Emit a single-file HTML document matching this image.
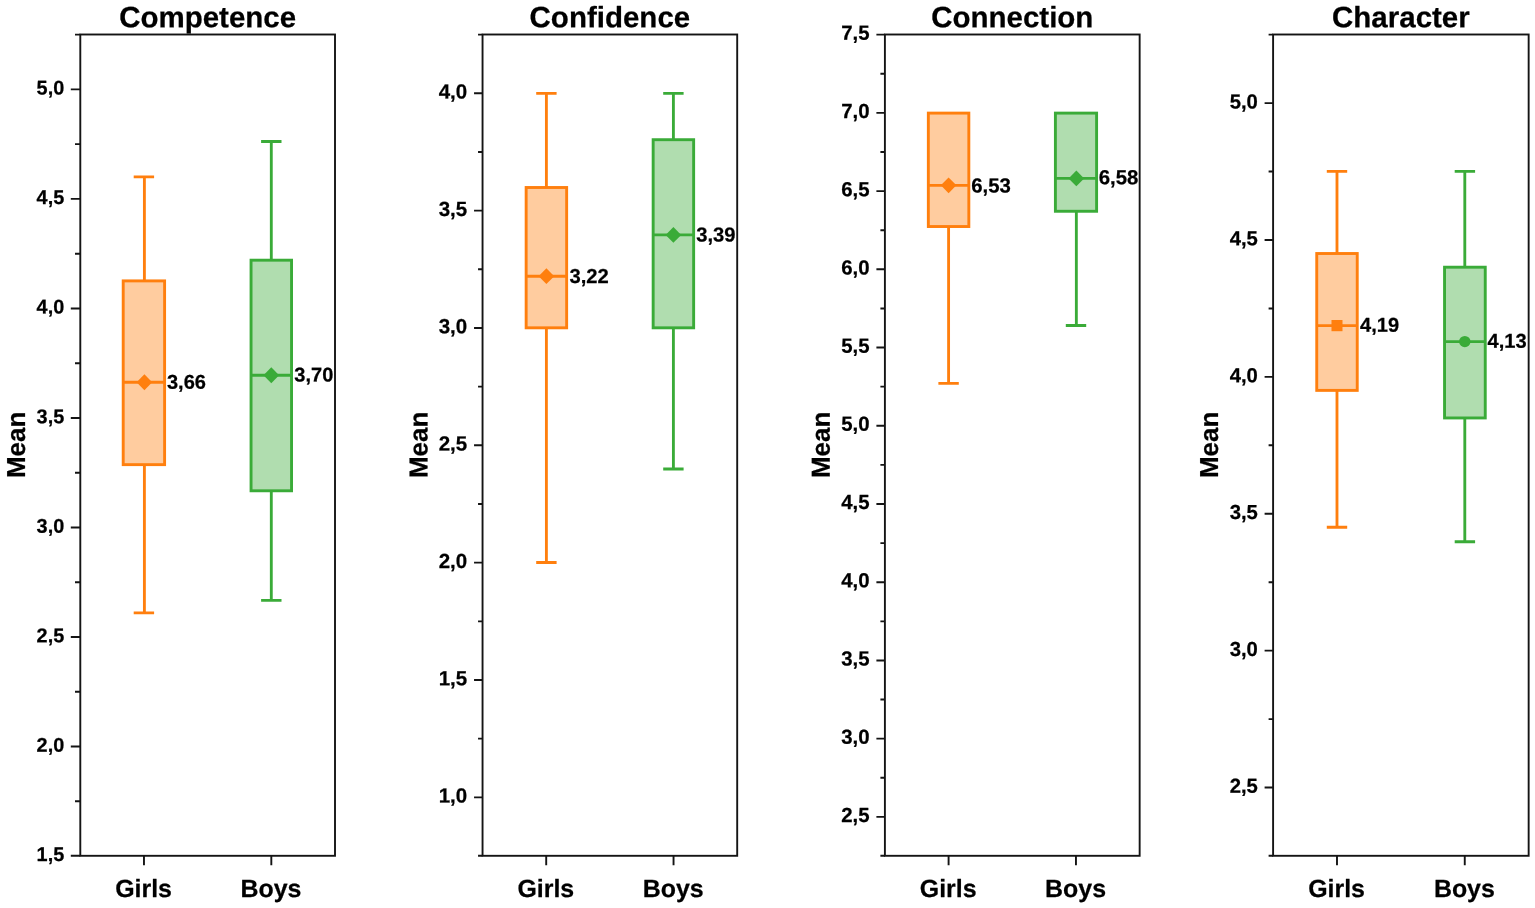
<!DOCTYPE html>
<html lang="en"><head><meta charset="utf-8"><title>Mean scores by gender</title>
<style>
html,body{margin:0;padding:0;background:#fff;}
body{width:1535px;height:908px;overflow:hidden;}
svg{display:block;}
text{font-family:'Liberation Sans', sans-serif;font-weight:bold;fill:#000;text-rendering:geometricPrecision;stroke:#000;stroke-width:0.25;stroke-linejoin:round;}
.ax{stroke:#141414;stroke-width:1.9;fill:none;}
.tl{font-size:20px;text-anchor:end;}
.ml{font-size:19.9px;text-anchor:start;}
.tt{font-size:29.5px;text-anchor:middle;}
.xl{font-size:24.9px;text-anchor:middle;}
.yl{font-size:26px;text-anchor:middle;}
.o{stroke:#ff7f0e;stroke-width:2.85;fill:none;}
.g{stroke:#3aab38;stroke-width:2.85;fill:none;}
.ob{stroke:#ff7f0e;stroke-width:2.9;fill:#ff7f0e;fill-opacity:.4;}
.gb{stroke:#3aab38;stroke-width:2.9;fill:#3aab38;fill-opacity:.4;}
.om{fill:#ff7f0e;stroke:none;}
.gm{fill:#3aab38;stroke:none;}
</style></head><body>
<svg xmlns="http://www.w3.org/2000/svg" width="1535" height="908" viewBox="0 0 1535 908">
<rect width="1535" height="908" fill="#fff"/>
<g>
<text class="tt" transform="translate(207.65 27.2) rotate(0.04)">Competence</text>
<rect class="ax" x="80.3" y="34.5" width="254.7" height="821.3"/>
<path class="ax" d="M80.3 855.8h-9.5M80.3 746.49h-9.5M80.3 636.97h-9.5M80.3 527.46h-9.5M80.3 417.95h-9.5M80.3 308.43h-9.5M80.3 198.92h-9.5M80.3 89.41h-9.5M80.3 801.24h-5.3M80.3 691.73h-5.3M80.3 582.22h-5.3M80.3 472.7h-5.3M80.3 363.19h-5.3M80.3 253.68h-5.3M80.3 144.16h-5.3M80.3 34.65h-5.3M143.97 855.8v9.5M271.32 855.8v9.5"/>
<text class="tl" style="font-size:19.85px" transform="translate(64.2 861) rotate(0.04)">1,5</text>
<text class="tl" style="font-size:19.85px" transform="translate(64.2 751.69) rotate(0.04)">2,0</text>
<text class="tl" style="font-size:19.85px" transform="translate(64.2 642.17) rotate(0.04)">2,5</text>
<text class="tl" style="font-size:19.85px" transform="translate(64.2 532.66) rotate(0.04)">3,0</text>
<text class="tl" style="font-size:19.85px" transform="translate(64.2 423.15) rotate(0.04)">3,5</text>
<text class="tl" style="font-size:19.85px" transform="translate(64.2 313.63) rotate(0.04)">4,0</text>
<text class="tl" style="font-size:19.85px" transform="translate(64.2 204.12) rotate(0.04)">4,5</text>
<text class="tl" style="font-size:19.85px" transform="translate(64.2 94.61) rotate(0.04)">5,0</text>
<text class="yl" transform="translate(24.9 444.85) rotate(-90.04)">Mean</text>
<path class="o" d="M144.4 464.64V612.91M133.7 612.91h20.4M144.4 280.89V176.86M133.7 176.86h20.4"/>
<rect class="ob" x="123.2" y="280.89" width="41.4" height="183.75"/>
<path class="o" d="M123.2 382.27h41.4"/>
<path class="om" d="M136.6 382.27l7.8 -7.9l7.8 7.9l-7.8 7.9z"/>
<text class="ml" style="font-size:20px" transform="translate(167 388.77) rotate(0.04)">3,66</text>
<text class="xl" transform="translate(143.57 897) rotate(0.04)">Girls</text>
<path class="g" d="M271.3 490.79V600.3M261.1 600.3h20.4M271.3 260.19V141.47M261.1 141.47h20.4"/>
<rect class="gb" x="251.05" y="260.19" width="40.5" height="230.6"/>
<path class="g" d="M251.05 375.26h40.5"/>
<path class="gm" d="M263.5 375.26l7.8 -7.9l7.8 7.9l-7.8 7.9z"/>
<text class="ml" style="font-size:20px" transform="translate(294.35 381.51) rotate(0.04)">3,70</text>
<text class="xl" transform="translate(270.93 897) rotate(0.04)">Boys</text>
</g>
<g>
<text class="tt" transform="translate(609.88 27.2) rotate(0.04)">Confidence</text>
<rect class="ax" x="482.55" y="34.5" width="254.65" height="821.3"/>
<path class="ax" d="M482.55 797.33h-8.5M482.55 680h-8.5M482.55 562.66h-8.5M482.55 445.32h-8.5M482.55 327.99h-8.5M482.55 210.65h-8.5M482.55 93.32h-8.5M482.55 855.8h-4.5M482.55 738.66h-4.5M482.55 621.33h-4.5M482.55 503.99h-4.5M482.55 386.66h-4.5M482.55 269.32h-4.5M482.55 151.99h-4.5M482.55 34.65h-4.5M546.21 855.8v9.5M673.54 855.8v9.5"/>
<text class="tl" style="font-size:20.5px" transform="translate(467.15 802.63) rotate(0.04)">1,0</text>
<text class="tl" style="font-size:20.5px" transform="translate(467.15 685.3) rotate(0.04)">1,5</text>
<text class="tl" style="font-size:20.5px" transform="translate(467.15 567.96) rotate(0.04)">2,0</text>
<text class="tl" style="font-size:20.5px" transform="translate(467.15 450.62) rotate(0.04)">2,5</text>
<text class="tl" style="font-size:20.5px" transform="translate(467.15 333.29) rotate(0.04)">3,0</text>
<text class="tl" style="font-size:20.5px" transform="translate(467.15 215.95) rotate(0.04)">3,5</text>
<text class="tl" style="font-size:20.5px" transform="translate(467.15 98.62) rotate(0.04)">4,0</text>
<text class="yl" transform="translate(427.5 444.85) rotate(-90.04)">Mean</text>
<path class="o" d="M546.4 327.82V562.48M536.2 562.48h20.4M546.4 187.5V93.4M536.2 93.4h20.4"/>
<rect class="ob" x="526.15" y="187.5" width="40.5" height="140.32"/>
<path class="o" d="M526.15 276.22h40.5"/>
<path class="om" d="M538.6 276.22l7.8 -7.9l7.8 7.9l-7.8 7.9z"/>
<text class="ml" style="font-size:20.2px" transform="translate(569.4 283.02) rotate(0.04)">3,22</text>
<text class="xl" transform="translate(545.81 897) rotate(0.04)">Girls</text>
<path class="g" d="M673.4 327.82V468.97M663.2 468.97h20.4M673.4 139.7V93.4M663.2 93.4h20.4"/>
<rect class="gb" x="653.15" y="139.7" width="40.5" height="188.12"/>
<path class="g" d="M653.15 234.9h40.5"/>
<path class="gm" d="M665.6 234.9l7.8 -7.9l7.8 7.9l-7.8 7.9z"/>
<text class="ml" style="font-size:20.2px" transform="translate(696.25 241.6) rotate(0.04)">3,39</text>
<text class="xl" transform="translate(673.14 897) rotate(0.04)">Boys</text>
</g>
<g>
<text class="tt" transform="translate(1012.28 27.2) rotate(0.04)">Connection</text>
<rect class="ax" x="884.9" y="34.5" width="254.75" height="821.3"/>
<path class="ax" d="M884.9 816.89h-8.5M884.9 738.66h-8.5M884.9 660.44h-8.5M884.9 582.22h-8.5M884.9 503.99h-8.5M884.9 425.77h-8.5M884.9 347.55h-8.5M884.9 269.32h-8.5M884.9 191.1h-8.5M884.9 112.87h-8.5M884.9 34.65h-8.5M884.9 855.8h-4.5M884.9 777.78h-4.5M884.9 699.55h-4.5M884.9 621.33h-4.5M884.9 543.1h-4.5M884.9 464.88h-4.5M884.9 386.66h-4.5M884.9 308.43h-4.5M884.9 230.21h-4.5M884.9 151.99h-4.5M884.9 73.76h-4.5M948.59 855.8v9.5M1075.96 855.8v9.5"/>
<text class="tl" style="font-size:20.4px" transform="translate(869.5 821.99) rotate(0.04)">2,5</text>
<text class="tl" style="font-size:20.4px" transform="translate(869.5 743.76) rotate(0.04)">3,0</text>
<text class="tl" style="font-size:20.4px" transform="translate(869.5 665.54) rotate(0.04)">3,5</text>
<text class="tl" style="font-size:20.4px" transform="translate(869.5 587.32) rotate(0.04)">4,0</text>
<text class="tl" style="font-size:20.4px" transform="translate(869.5 509.09) rotate(0.04)">4,5</text>
<text class="tl" style="font-size:20.4px" transform="translate(869.5 430.87) rotate(0.04)">5,0</text>
<text class="tl" style="font-size:20.4px" transform="translate(869.5 352.65) rotate(0.04)">5,5</text>
<text class="tl" style="font-size:20.4px" transform="translate(869.5 274.42) rotate(0.04)">6,0</text>
<text class="tl" style="font-size:20.4px" transform="translate(869.5 196.2) rotate(0.04)">6,5</text>
<text class="tl" style="font-size:20.4px" transform="translate(869.5 117.97) rotate(0.04)">7,0</text>
<text class="tl" style="font-size:20.4px" transform="translate(869.5 39.75) rotate(0.04)">7,5</text>
<text class="yl" transform="translate(829.75 444.85) rotate(-90.04)">Mean</text>
<path class="o" d="M948.59 226.53V383.36M938.39 383.36h20.4"/>
<rect class="ob" x="928.34" y="113.11" width="40.5" height="113.42"/>
<path class="o" d="M928.34 185.34h40.5"/>
<path class="om" d="M940.79 185.34l7.8 -7.9l7.8 7.9l-7.8 7.9z"/>
<text class="ml" style="font-size:20.35px" transform="translate(971.24 192.54) rotate(0.04)">6,53</text>
<text class="xl" transform="translate(948.19 897) rotate(0.04)">Girls</text>
<path class="g" d="M1076.35 211.28V325.47M1065.8 325.47h20.4"/>
<rect class="gb" x="1055.4" y="113.11" width="41.2" height="98.16"/>
<path class="g" d="M1055.4 178.39h41.2"/>
<path class="gm" d="M1068.55 178.39l7.8 -7.9l7.8 7.9l-7.8 7.9z"/>
<text class="ml" style="font-size:20.35px" transform="translate(1098.8 184.29) rotate(0.04)">6,58</text>
<text class="xl" transform="translate(1075.56 897) rotate(0.04)">Boys</text>
</g>
<g>
<text class="tt" transform="translate(1400.88 27.2) rotate(0.04)">Character</text>
<rect class="ax" x="1273.1" y="34.5" width="255.55" height="821.3"/>
<path class="ax" d="M1273.1 787.55h-8.5M1273.1 650.66h-8.5M1273.1 513.77h-8.5M1273.1 376.88h-8.5M1273.1 239.99h-8.5M1273.1 103.1h-8.5M1273.1 855.8h-4.5M1273.1 719.11h-4.5M1273.1 582.22h-4.5M1273.1 445.32h-4.5M1273.1 308.43h-4.5M1273.1 171.54h-4.5M1273.1 34.65h-4.5M1336.99 855.8v9.5M1464.76 855.8v9.5"/>
<text class="tl" style="font-size:20.25px" transform="translate(1257.8 792.85) rotate(0.04)">2,5</text>
<text class="tl" style="font-size:20.25px" transform="translate(1257.8 655.96) rotate(0.04)">3,0</text>
<text class="tl" style="font-size:20.25px" transform="translate(1257.8 519.07) rotate(0.04)">3,5</text>
<text class="tl" style="font-size:20.25px" transform="translate(1257.8 382.18) rotate(0.04)">4,0</text>
<text class="tl" style="font-size:20.25px" transform="translate(1257.8 245.29) rotate(0.04)">4,5</text>
<text class="tl" style="font-size:20.25px" transform="translate(1257.8 108.4) rotate(0.04)">5,0</text>
<text class="yl" transform="translate(1217.9 444.85) rotate(-90.04)">Mean</text>
<path class="o" d="M1336.99 390.4V527.28M1326.79 527.28h20.4M1336.99 253.51V171.38M1326.79 171.38h20.4"/>
<rect class="ob" x="1316.74" y="253.51" width="40.5" height="136.88"/>
<path class="o" d="M1316.74 325.6h40.5"/>
<rect class="om" x="1331.49" y="320" width="11" height="11.2"/>
<text class="ml" style="font-size:20.1px" transform="translate(1359.99 331.85) rotate(0.04)">4,19</text>
<text class="xl" transform="translate(1336.59 897) rotate(0.04)">Girls</text>
<path class="g" d="M1464.8 417.96V541.73M1454.7 541.73h20.4M1464.8 267.2V171.38M1454.7 171.38h20.4"/>
<rect class="gb" x="1444.55" y="267.2" width="40.7" height="150.76"/>
<path class="g" d="M1444.55 341.58h40.7"/>
<circle class="gm" cx="1464.8" cy="341.58" r="5.7"/>
<text class="ml" style="font-size:20.1px" transform="translate(1487.45 347.83) rotate(0.04)">4,13</text>
<text class="xl" transform="translate(1464.36 897) rotate(0.04)">Boys</text>
</g>
</svg></body></html>
